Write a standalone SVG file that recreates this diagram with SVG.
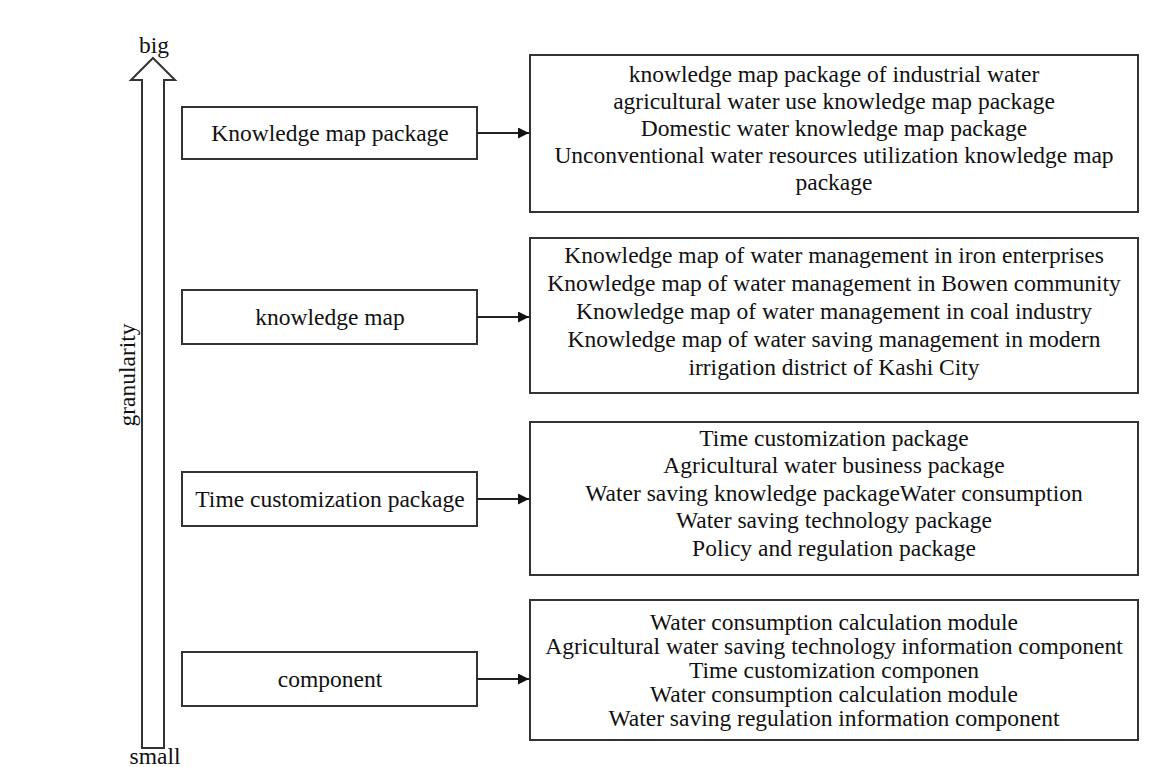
<svg xmlns="http://www.w3.org/2000/svg" width="1164" height="767" viewBox="0 0 1164 767">
<style>
text{font-family:"Liberation Serif","Times New Roman",serif;font-size:23.5px;fill:#111;text-anchor:middle}
.box{fill:#fff;stroke:#333;stroke-width:2}
.conn{stroke:#222;stroke-width:2;fill:none}
</style>
<defs>
<marker id="ah" viewBox="0 0 10 10" refX="10" refY="5" markerWidth="5.5" markerHeight="5.5" orient="auto" markerUnits="strokeWidth">
<path d="M0,0 L10,5 L0,10 z" fill="#111"/>
</marker>
</defs>
<rect width="1164" height="767" fill="#fff"/>
<g id="axis">
<polygon class="box" points="153,58 175,80 164,80 164,748 142,748 142,80 131,80"/>
<text x="154" y="53">big</text>
<text x="155" y="764">small</text>
<text x="135" y="375" transform="rotate(-90 135 375)">granularity</text>
</g>
<g id="n1">
<rect class="box" x="182" y="107" width="295" height="52"/>
<text x="330" y="141">Knowledge map package</text>
</g>
<g id="n2">
<rect class="box" x="182" y="290" width="295" height="54"/>
<text x="330" y="325">knowledge map</text>
</g>
<g id="n3">
<rect class="box" x="182" y="472" width="295" height="54"/>
<text x="330" y="507">Time customization package</text>
</g>
<g id="n4">
<rect class="box" x="182" y="652" width="295" height="54"/>
<text x="330" y="687">component</text>
</g>
<g id="r1">
<rect class="box" x="530" y="55" width="608" height="157"/>
<text x="834" y="82">knowledge map package of industrial water</text>
<text x="834" y="109">agricultural water use knowledge map package</text>
<text x="834" y="136">Domestic water knowledge map package</text>
<text x="834" y="163">Unconventional water resources utilization knowledge map</text>
<text x="834" y="190">package</text>
</g>
<g id="r2">
<rect class="box" x="530" y="238" width="608" height="155"/>
<text x="834" y="263">Knowledge map of water management in iron enterprises</text>
<text x="834" y="291">Knowledge map of water management in Bowen community</text>
<text x="834" y="319">Knowledge map of water management in coal industry</text>
<text x="834" y="347">Knowledge map of water saving management in modern</text>
<text x="834" y="375">irrigation district of Kashi City</text>
</g>
<g id="r3">
<rect class="box" x="530" y="422" width="608" height="153"/>
<text x="834" y="446">Time customization package</text>
<text x="834" y="473">Agricultural water business package</text>
<text x="834" y="501">Water saving knowledge packageWater consumption</text>
<text x="834" y="528">Water saving technology package</text>
<text x="834" y="556">Policy and regulation package</text>
</g>
<g id="r4">
<rect class="box" x="530" y="600" width="608" height="140"/>
<text x="834" y="630">Water consumption calculation module</text>
<text x="834" y="654">Agricultural water saving technology information component</text>
<text x="834" y="678">Time customization componen</text>
<text x="834" y="702">Water consumption calculation module</text>
<text x="834" y="726">Water saving regulation information component</text>
</g>
<g id="connectors">
<line class="conn" x1="477" y1="133" x2="529" y2="133" marker-end="url(#ah)"/>
<line class="conn" x1="477" y1="317" x2="529" y2="317" marker-end="url(#ah)"/>
<line class="conn" x1="477" y1="499" x2="529" y2="499" marker-end="url(#ah)"/>
<line class="conn" x1="477" y1="679" x2="529" y2="679" marker-end="url(#ah)"/>
</g>
</svg>
